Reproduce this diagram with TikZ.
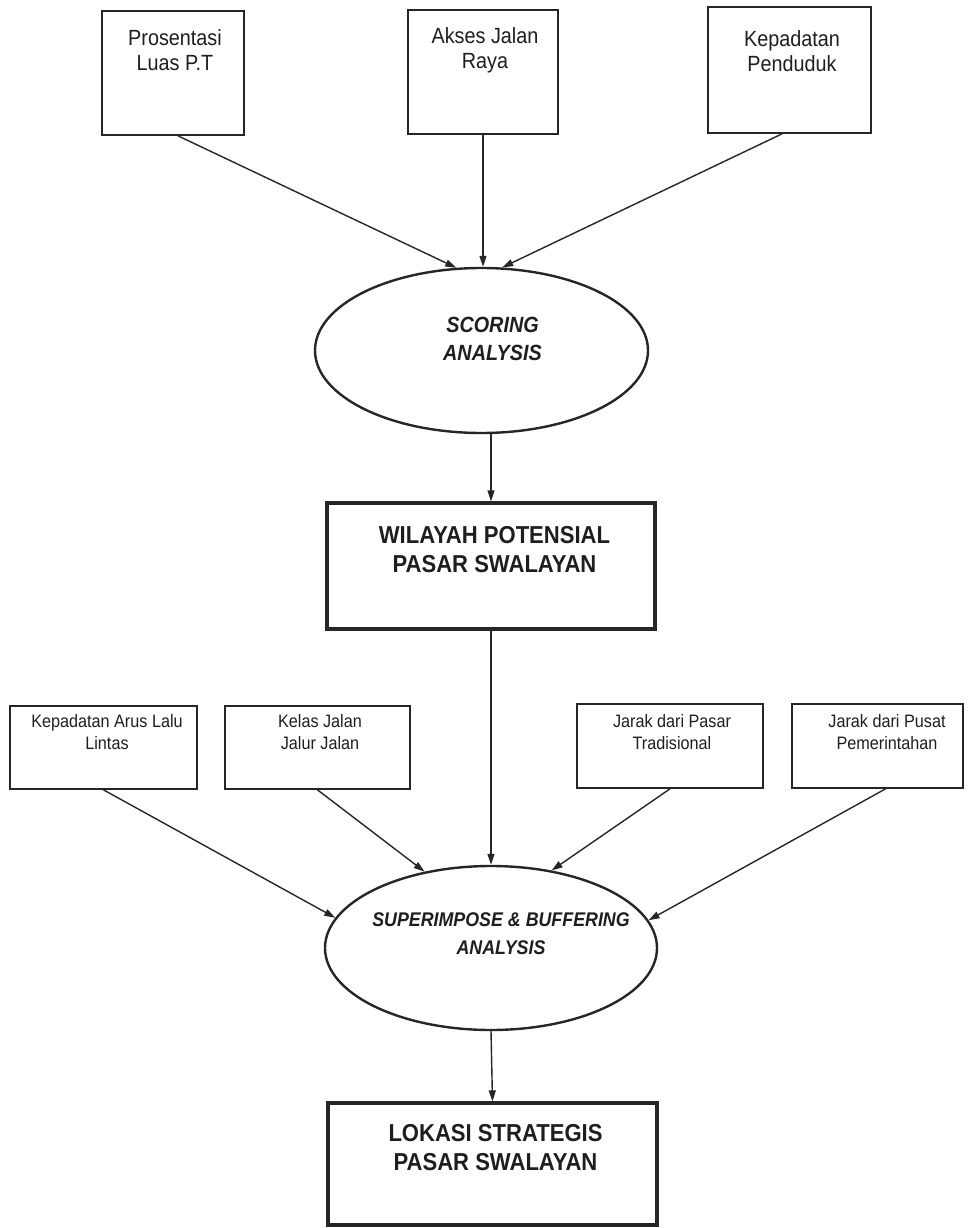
\documentclass[tikz,border=0pt]{standalone}
\usepackage{fontspec}
\setmainfont{Liberation Sans}[FakeStretch=0.9]
\usetikzlibrary{shapes.geometric,arrows.meta}

\definecolor{ink}{HTML}{262626}
\definecolor{txt}{HTML}{1E1E1E}

\begin{document}
\begin{tikzpicture}[x=1pt,y=-1pt,
  box/.style={draw=ink, line width=1.7pt, inner sep=0pt},
  bigbox/.style={draw=ink, line width=3.2pt, inner sep=0pt},
  oval/.style={draw=ink, line width=2.4pt, ellipse, inner sep=0pt},
  lbl/.style={text=txt, align=center, inner sep=0pt},
  toptext/.style={lbl, font=\fontsize{22}{25}\selectfont},
  lowtext/.style={lbl, font=\fontsize{18}{22}\selectfont},
  ovaltext/.style={lbl, font=\bfseries\itshape\fontsize{#1}{28}\selectfont},
  bigtext/.style={lbl, font=\bfseries\fontsize{24.5}{29}\selectfont},
  arr/.style={draw=ink, line width=1.4pt, -{Triangle[length=11pt,width=7pt]}}
]
\useasboundingbox (0,0) rectangle (972,1228);

% input factors for the scoring step
\node[box, minimum width=142pt, minimum height=124pt] (pt)   at (173,73)   {};
\node[box, minimum width=150pt, minimum height=124pt] (road) at (483,72)   {};
\node[box, minimum width=163pt, minimum height=126pt] (pop)  at (789.5,70) {};
\node[toptext] (ptT)   at (175,50.5) {Prosentasi\\Luas P.T};
\node[toptext] (roadT) at (485,50)   {Akses Jalan\\Raya};
\node[toptext] (popT)  at (792,51)   {Kepadatan\\Penduduk};

% scoring analysis
\node[oval, minimum width=333pt, minimum height=165pt] (score) at (481.5,350.5) {};
\node[ovaltext=22] (scoreT) at (492.5,339) {SCORING\\ANALYSIS};

% potential region
\node[bigbox, minimum width=328pt, minimum height=126pt] (pot) at (491,566) {};
\node[bigtext] (potT) at (494.5,549.5) {WILAYAH POTENSIAL\\PASAR SWALAYAN};

% input factors for the overlay step
\node[box, minimum width=187pt, minimum height=83pt] (traf) at (103.5,747.5) {};
\node[box, minimum width=185pt, minimum height=83pt] (cls)  at (317.5,747.5) {};
\node[box, minimum width=186pt, minimum height=84pt] (mkt)  at (670,746)     {};
\node[box, minimum width=171pt, minimum height=84pt] (gov)  at (877.5,746)   {};
\node[lowtext] (trafT) at (107,732) {Kepadatan Arus Lalu\\Lintas};
\node[lowtext] (clsT)  at (320,732) {Kelas Jalan\\Jalur Jalan};
\node[lowtext] (mktT)  at (672,732) {Jarak dari Pasar\\Tradisional};
\node[lowtext] (govT)  at (887,732) {Jarak dari Pusat\\Pemerintahan};

% superimpose and buffering analysis
\node[oval, minimum width=332pt, minimum height=164pt] (sup) at (491,948) {};
\node[ovaltext=19.8] (supT) at (501,933.5) {SUPERIMPOSE \& BUFFERING\\ANALYSIS};

% final result
\node[bigbox, minimum width=329pt, minimum height=122pt] (loc) at (492.5,1164) {};
\node[bigtext] (locT) at (495.5,1147.5) {LOKASI STRATEGIS\\PASAR SWALAYAN};

% connectors
\draw[arr] ([xshift=5pt]pt.south)    -- (score.107);
\draw[arr] (road.south) -- (road.south |- score.north);
\draw[arr] ([xshift=-7.5pt]pop.south) -- (score.76);
\draw[arr] (pot.north |- score.south) -- (pot.north);
\draw[arr] (pot.south) -- (sup.north);
\draw[arr] (traf.south) -- (sup.169);
\draw[arr] (cls.south)  -- (sup.131);
\draw[arr] (mkt.south)  -- (sup.52);
\draw[arr] ([xshift=8pt]gov.south) -- (sup.10);
\draw[arr] (sup.south) -- (loc.north);
\end{tikzpicture}
\end{document}
